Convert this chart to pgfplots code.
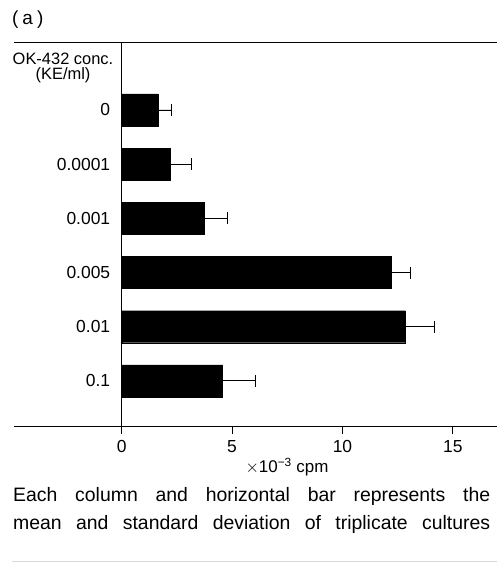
\documentclass[border=0pt]{standalone}
\usepackage{fontspec}
\setmainfont{Liberation Sans}
\usepackage{pgfplots}
\usepackage{pgfplotstable}
\pgfplotsset{compat=1.18}
\pgfplotstableread{
c v e
0 1.65 0.62
1 2.20 0.97
2 3.74 1.04
3 12.20 0.90
4 12.85 1.30
5 4.57 1.51
}\datatab
\begin{document}
\begin{tikzpicture}[x=1bp,y=1bp]
\path[use as bounding box] (0,0) rectangle (497,564);
\begin{axis}[
 at={(121.7bp,137bp)}, anchor=south west,
 scale only axis, width=375.3bp, height=384bp,
 xbar, bar width=32bp,
 xmin=0, xmax=17,
 ymin=-1.236, ymax=5.85, y dir=reverse,
 ytick={0,...,5}, yticklabels={0,0.0001,0.001,0.005,0.01,0.1},
 xtick={0,5,10,15}, xticklabels={0,5,10,15},
 axis line style={draw=none},
 tick align=outside, xtick pos=left, ytick pos=left,
 major tick length=7bp,
 xtick style={black, line width=0.9bp},
 ytick style={draw=none},
 ticklabel style={font=\fontsize{17.5}{20}\selectfont},
 yticklabel style={xshift=-1bp},
 xticklabel style={yshift=-3bp},
 /pgf/number format/assume math mode=true,
 clip=false,
]
\addplot[fill=black, draw=black,
  error bars/.cd, x dir=plus, x explicit,
  error bar style={line width=0.9bp, black},
  error mark options={black, line width=0.9bp, mark size=6bp, rotate=90}]
  table[x=v, y=c, x error=e] {\datatab};
\end{axis}
\draw[line width=1bp] (14,521) -- (497,521);
\draw[line width=1bp] (14,137) -- (497,137);
\draw[line width=1bp] (121.7,521) -- (121.7,131);
\node[font=\fontsize{16.5}{15}\selectfont, align=center] at (63,496.5) {OK-432 conc.\\(KE/ml)};
\node[font=\fontsize{19}{20}\selectfont, anchor=base west, inner sep=0] at (12,539) {(\hspace{4bp}a\hspace{4bp})};
\node[font=\fontsize{17}{18}\selectfont, anchor=base] at (287,91) {$\times$10\textsuperscript{−3} cpm};
\node[font=\fontsize{19.5}{20}\selectfont, anchor=base west, inner sep=0] at (13,62) {\makebox[477bp][s]{Each column and horizontal bar represents the}};
\node[font=\fontsize{19.5}{20}\selectfont, anchor=base west, inner sep=0] at (13,34) {\makebox[477bp][s]{mean and standard deviation of triplicate cultures}};
\draw[black!15, line width=1bp] (12,2) -- (497,2);
\end{tikzpicture}
\end{document}
